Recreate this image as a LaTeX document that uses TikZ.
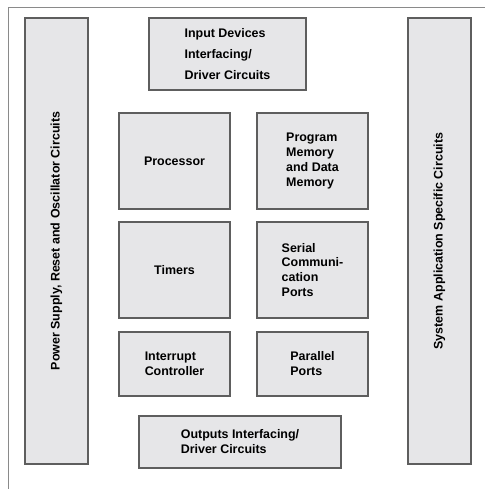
\documentclass[tikz,border=0pt]{standalone}
\usepackage{fontspec}
\setmainfont{Liberation Sans}
\begin{document}
\begin{tikzpicture}[x=1bp,y=-1bp,
  blk/.style={draw=boxline, fill=boxfill, line width=1.1bp, inner sep=0pt,
    align=left, font=\fontsize{12.5}{15}\selectfont\bfseries},
  frameline/.style={draw=framegray, line width=1bp}]
\definecolor{boxfill}{HTML}{E6E6E8}
\definecolor{boxline}{HTML}{5E5E5E}
\definecolor{framegray}{HTML}{8A8A8A}
\useasboundingbox (0,0) rectangle (485,489);
% outer frame (top and left edges)
\coordinate (ftl) at (8,8);
\coordinate (ftr) at (485,8);
\coordinate (fbl) at (8,489);
\draw[frameline] (ftr) -- (ftl) -- (fbl);
% side columns
\node[blk, rotate=90, minimum width=446bp, minimum height=63bp] (power) at (56.5,241)
  {Power Supply, Reset and Oscillator Circuits};
\node[blk, rotate=90, minimum width=446bp, minimum height=63bp] (system) at (439.5,241)
  {System Application Specific Circuits};
% input and output interfacing
\node[blk, minimum width=157bp, minimum height=72bp,
  font=\fontsize{12.5}{21}\selectfont\bfseries] (input) at (227.5,54)
  {Input Devices\\Interfacing/\\Driver Circuits};
\node[blk, minimum width=202bp, minimum height=52bp] (output) at (240,442)
  {Outputs Interfacing/\\Driver Circuits};
% core blocks
\node[blk, minimum width=111bp, minimum height=96bp] (proc) at (174.5,161) {Processor};
\node[blk, minimum width=111bp, minimum height=96bp] (mem) at (312.5,161)
  {Program\\Memory\\and Data\\Memory};
\node[blk, minimum width=111bp, minimum height=96bp] (timers) at (174.5,270) {Timers};
\node[blk, minimum width=111bp, minimum height=96bp] (serial) at (312.5,270)
  {Serial\\Communi-\\cation\\Ports};
\node[blk, minimum width=111bp, minimum height=64bp] (intr) at (174.5,364)
  {Interrupt\\Controller};
\node[blk, minimum width=111bp, minimum height=64bp] (par) at (312.5,364)
  {Parallel\\Ports};
\end{tikzpicture}
\end{document}
